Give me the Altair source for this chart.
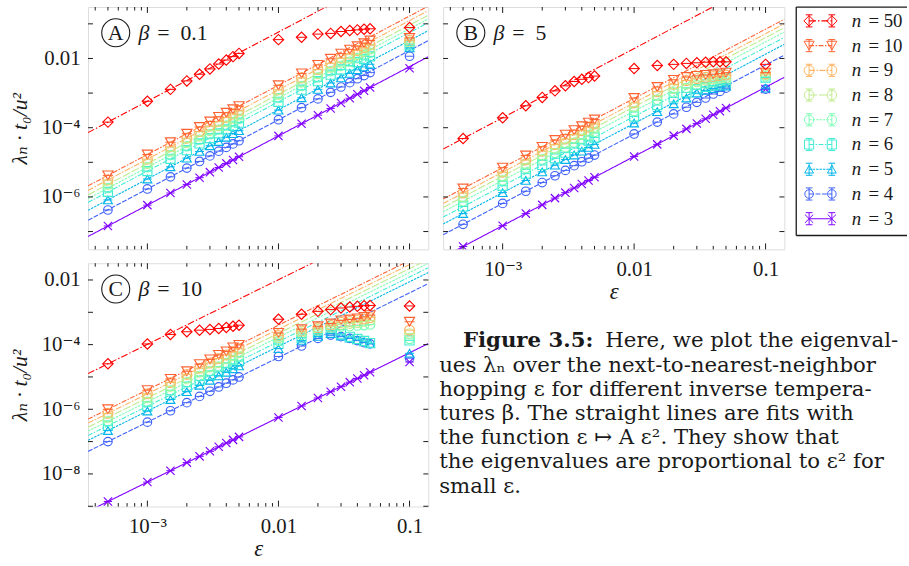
import altair as alt
import pandas as pd

# ---------------- data ----------------
EPS = [5e-4, 1e-3, 1.5e-3, 2e-3, 2.5e-3, 3e-3, 3.5e-3, 4e-3, 4.5e-3, 5e-3,
       0.01, 0.015, 0.02, 0.025, 0.03, 0.035, 0.04, 0.045, 0.05, 0.1]
SERIES = ["3", "4", "5", "6", "7", "8", "9", "10", "50"]
LEG_ORDER = ["50", "10", "9", "8", "7", "6", "5", "4", "3"]

# Panel A, beta = 0.1
A3 = [1.45e-7, 5.8e-7, 1.3e-6, 2.3e-6, 3.6e-6, 5.2e-6, 7.1e-6, 9.3e-6, 1.17e-5, 1.45e-5, 5.8e-5, 1.3e-4, 2.3e-4, 3.6e-4, 5.2e-4, 7.1e-4, 9.3e-4, 1.17e-3, 1.45e-3, 5.2e-3]
A4 = [4.2e-7, 1.7e-6, 3.8e-6, 6.8e-6, 1.06e-5, 1.53e-5, 2.1e-5, 2.7e-5, 3.4e-5, 4.2e-5, 1.7e-4, 3.8e-4, 6.8e-4, 1.05e-3, 1.5e-3, 2.0e-3, 2.6e-3, 3.2e-3, 3.9e-3, 1.16e-2]
A5 = [8.2e-7, 3.3e-6, 7.4e-6, 1.32e-5, 2.06e-5, 3.0e-5, 4.0e-5, 5.3e-5, 6.7e-5, 8.2e-5, 3.2e-4, 7.3e-4, 1.28e-3, 1.95e-3, 2.75e-3, 3.7e-3, 4.7e-3, 5.7e-3, 6.8e-3, 2.02e-2]
A6 = [1.4e-6, 5.6e-6, 1.26e-5, 2.24e-5, 3.5e-5, 5.0e-5, 6.9e-5, 9.0e-5, 1.13e-4, 1.4e-4, 5.6e-4, 1.25e-3, 2.2e-3, 3.4e-3, 4.8e-3, 6.3e-3, 7.9e-3, 9.6e-3, 1.15e-2, 2.4e-2]
A7 = [1.8e-6, 7.2e-6, 1.62e-5, 2.9e-5, 4.5e-5, 6.5e-5, 8.8e-5, 1.15e-4, 1.46e-4, 1.8e-4, 7.2e-4, 1.6e-3, 2.8e-3, 4.3e-3, 6.1e-3, 8.0e-3, 1.01e-2, 1.23e-2, 1.45e-2, 2.68e-2]
A8 = [2.3e-6, 9.2e-6, 2.07e-5, 3.7e-5, 5.75e-5, 8.3e-5, 1.13e-4, 1.47e-4, 1.86e-4, 2.3e-4, 9.2e-4, 2.05e-3, 3.6e-3, 5.5e-3, 7.7e-3, 1.01e-2, 1.28e-2, 1.56e-2, 1.85e-2, 3.0e-2]
A9 = [3.1e-6, 1.24e-5, 2.8e-5, 5.0e-5, 7.75e-5, 1.12e-4, 1.52e-4, 1.98e-4, 2.5e-4, 3.1e-4, 1.24e-3, 2.75e-3, 4.8e-3, 7.3e-3, 1.02e-2, 1.34e-2, 1.7e-2, 2.05e-2, 2.45e-2, 3.34e-2]
A10 = [4.2e-6, 1.68e-5, 3.8e-5, 6.7e-5, 1.05e-4, 1.51e-4, 2.06e-4, 2.7e-4, 3.4e-4, 4.2e-4, 1.68e-3, 3.7e-3, 6.5e-3, 9.8e-3, 1.38e-2, 1.8e-2, 2.25e-2, 2.75e-2, 3.3e-2, 3.9e-2]
A50 = [1.45e-4, 5.8e-4, 1.28e-3, 2.25e-3, 3.5e-3, 5.0e-3, 6.9e-3, 9.0e-3, 1.13e-2, 1.4e-2, 3.5e-2, 4.1e-2, 5.05e-2, 5.3e-2, 6.0e-2, 6.4e-2, 6.7e-2, 7.0e-2, 7.2e-2, 7.8e-2]
FIT_A = [0.58, 1.7, 3.3, 5.6, 7.2, 9.2, 12.4, 16.8, 580]

# Panel B, beta = 5
B3 = [3.7e-8, 1.48e-7, 3.3e-7, 5.9e-7, 9.25e-7, 1.33e-6, 1.81e-6, 2.37e-6, 3.0e-6, 3.7e-6, 1.48e-5, 3.3e-5, 5.9e-5, 9.25e-5, 1.33e-4, 1.81e-4, 2.37e-4, 3.0e-4, 3.7e-4, 1.3e-3]
B4 = [1.62e-7, 6.5e-7, 1.46e-6, 2.6e-6, 4.1e-6, 5.85e-6, 8.0e-6, 1.04e-5, 1.32e-5, 1.62e-5, 6.6e-5, 1.45e-4, 2.5e-4, 3.9e-4, 5.4e-4, 7.2e-4, 9.4e-4, 1.12e-3, 1.39e-3, 1.3e-3]
B5 = [3.3e-7, 1.33e-6, 3.0e-6, 5.3e-6, 8.3e-6, 1.2e-5, 1.63e-5, 2.1e-5, 2.7e-5, 3.3e-5, 1.36e-4, 2.9e-4, 4.9e-4, 7.2e-4, 1.0e-3, 1.2e-3, 1.35e-3, 1.5e-3, 1.6e-3, 1.39e-3]
B6 = [5.3e-7, 2.1e-6, 4.7e-6, 8.4e-6, 1.3e-5, 1.9e-5, 2.6e-5, 3.4e-5, 4.2e-5, 5.2e-5, 2.1e-4, 4.5e-4, 7.5e-4, 1.05e-3, 1.3e-3, 1.5e-3, 1.65e-3, 1.8e-3, 1.9e-3, 2.8e-3]
B7 = [7.5e-7, 3.0e-6, 6.75e-6, 1.2e-5, 1.87e-5, 2.7e-5, 3.7e-5, 4.8e-5, 6.0e-5, 7.4e-5, 3.0e-4, 6.4e-4, 1.05e-3, 1.4e-3, 1.7e-3, 1.9e-3, 2.05e-3, 2.15e-3, 2.25e-3, 3.05e-3]
B8 = [1.0e-6, 4.0e-6, 9.0e-6, 1.6e-5, 2.5e-5, 3.6e-5, 4.9e-5, 6.3e-5, 8.0e-5, 9.8e-5, 4.0e-4, 8.4e-4, 1.35e-3, 1.8e-3, 2.1e-3, 2.35e-3, 2.5e-3, 2.6e-3, 2.7e-3, 3.4e-3]
B9 = [1.3e-6, 5.2e-6, 1.17e-5, 2.1e-5, 3.25e-5, 4.7e-5, 6.3e-5, 8.2e-5, 1.04e-4, 1.28e-4, 5.2e-4, 1.1e-3, 1.8e-3, 2.3e-3, 2.6e-3, 2.85e-3, 3.0e-3, 3.15e-3, 3.3e-3, 3.6e-3]
B10 = [1.75e-6, 7.0e-6, 1.58e-5, 2.8e-5, 4.4e-5, 6.3e-5, 8.5e-5, 1.1e-4, 1.4e-4, 1.72e-4, 7.2e-4, 1.5e-3, 2.4e-3, 2.9e-3, 3.15e-3, 3.35e-3, 3.5e-3, 3.7e-3, 3.9e-3, 3.9e-3]
B50 = [4.85e-5, 1.93e-4, 4.3e-4, 7.5e-4, 1.16e-3, 1.62e-3, 2.16e-3, 2.5e-3, 2.8e-3, 3.1e-3, 5.1e-3, 6.3e-3, 6.75e-3, 7.2e-3, 7.5e-3, 7.8e-3, 8.0e-3, 8.0e-3, 8.0e-3, 6.75e-3]
FIT_B = [0.148, 0.65, 1.33, 2.1, 3.0, 4.0, 5.2, 7.0, 194]

# Panel C, beta = 10
C3 = [1.4e-9, 5.6e-9, 1.26e-8, 2.24e-8, 3.5e-8, 5.0e-8, 6.9e-8, 9.0e-8, 1.13e-7, 1.4e-7, 5.6e-7, 1.26e-6, 2.24e-6, 3.5e-6, 5.0e-6, 6.9e-6, 9.0e-6, 1.13e-5, 1.4e-5, 2.9e-5]
C4 = [1.0e-7, 4.0e-7, 9.0e-7, 1.6e-6, 2.5e-6, 3.6e-6, 4.9e-6, 6.4e-6, 8.1e-6, 1.0e-5, 4.3e-5, 9.1e-5, 1.56e-4, 1.97e-4, 1.76e-4, 1.56e-4, 1.33e-4, 1.15e-4, 1.05e-4, 3.8e-5]
C5 = [2.2e-7, 8.8e-7, 2.0e-6, 3.5e-6, 5.5e-6, 7.9e-6, 1.08e-5, 1.4e-5, 1.78e-5, 2.2e-5, 7.5e-5, 1.35e-4, 1.8e-4, 2.2e-4, 1.85e-4, 1.6e-4, 1.4e-4, 1.22e-4, 1.08e-4, 5.4e-5]
C6 = [3.1e-7, 1.24e-6, 2.8e-6, 5.0e-6, 7.75e-6, 1.12e-5, 1.52e-5, 1.98e-5, 2.5e-5, 3.1e-5, 1.05e-4, 1.65e-4, 2.2e-4, 2.7e-4, 2.1e-4, 1.75e-4, 1.5e-4, 1.3e-4, 1.12e-4, 1.35e-4]
C7 = [4.25e-7, 1.7e-6, 3.8e-6, 6.8e-6, 1.06e-5, 1.53e-5, 2.1e-5, 2.7e-5, 3.4e-5, 4.2e-5, 1.3e-4, 2.0e-4, 2.6e-4, 3.2e-4, 3.6e-4, 3.75e-4, 3.9e-4, 4.0e-4, 4.2e-4, 1.5e-4]
C8 = [5.6e-7, 2.25e-6, 5.1e-6, 9.0e-6, 1.4e-5, 2.0e-5, 2.75e-5, 3.6e-5, 4.55e-5, 5.6e-5, 1.6e-4, 2.35e-4, 2.95e-4, 3.6e-4, 4.2e-4, 4.5e-4, 4.8e-4, 5.2e-4, 5.6e-4, 2.2e-4]
C9 = [7.5e-7, 3.0e-6, 6.75e-6, 1.2e-5, 1.87e-5, 2.7e-5, 3.7e-5, 4.8e-5, 6.0e-5, 7.4e-5, 1.9e-4, 2.65e-4, 3.3e-4, 4.0e-4, 4.9e-4, 5.2e-4, 5.6e-4, 6.2e-4, 6.9e-4, 2.8e-4]
C10 = [1.0e-6, 3.9e-6, 8.7e-6, 1.5e-5, 2.5e-5, 3.5e-5, 4.8e-5, 6.2e-5, 8.2e-5, 9.8e-5, 2.3e-4, 3.0e-4, 3.7e-4, 4.5e-4, 5.6e-4, 6.0e-4, 6.5e-4, 7.2e-4, 8.2e-4, 5.1e-4]
C50 = [2.55e-5, 1.05e-4, 2.07e-4, 2.5e-4, 2.8e-4, 2.95e-4, 3.16e-4, 3.4e-4, 3.7e-4, 4.0e-4, 6.1e-4, 8.7e-4, 1.07e-3, 1.21e-3, 1.36e-3, 1.46e-3, 1.53e-3, 1.6e-3, 1.63e-3, 1.57e-3]
FIT_C = [0.0056, 0.4, 0.88, 1.24, 1.7, 2.25, 3.0, 4.0, 102]

# ticks and labels
X_DOM = [3.525e-4, 0.139]
Y_DOM_AB = [3.06e-8, 0.306]
Y_DOM_C = [9.8e-10, 0.033]
X_MAJOR = [1e-3, 1e-2, 1e-1]
X_LABELS = ["10⁻³", "0.01", "0.1"]
X_MINOR = [4e-4, 5e-4, 6e-4, 7e-4, 8e-4, 9e-4, 2e-3, 3e-3, 4e-3, 5e-3, 6e-3, 7e-3, 8e-3, 9e-3,
           2e-2, 3e-2, 4e-2, 5e-2, 6e-2, 7e-2, 8e-2, 9e-2]
Y_TICKS_AB = [1e-7, 1e-6, 1e-5, 1e-4, 1e-3, 1e-2, 1e-1]
Y_TICKS_C = [1e-9, 1e-8, 1e-7, 1e-6, 1e-5, 1e-4, 1e-3, 1e-2]
Y_LAB_AB = [1e-6, 1e-4, 1e-2]
Y_LABTXT_AB = ["10⁻⁶", "10⁻⁴", "0.01"]
Y_LAB_C = [1e-8, 1e-6, 1e-4, 1e-2]
Y_LABTXT_C = ["10⁻⁸", "10⁻⁶", "10⁻⁴", "0.01"]

CAPTION = [
    "ues λₙ over the next-to-nearest-neighbor",
    "hopping ε for different inverse tempera-",
    "tures β. The straight lines are fits with",
    "the function ε ↦ A ε². They show that",
    "the eigenvalues are proportional to ε² for",
    "small ε.",
]
CAP_HEAD = "Figure 3.5:"
CAP_FIRST = "Here, we plot the eigenval-"

# ---------------- styles ----------------
COLORS = ["#8000ff", "#4062fa", "#00b4eb", "#40ecd4", "#80ffb4", "#c0eb8d", "#ffb462", "#ff6232", "#ff0000"]
XSHAPE = "M-1,-1L1,1M-1,1L1,-1"
DASHSHAPE = "M-1,0L1,0"
SHAPES = [XSHAPE, "circle", "triangle-up", "square", "circle", "circle", "circle", "triangle-down", "diamond"]
SIZES = [70, 110, 110, 85, 100, 100, 100, 110, 180]
BAR_SIZES = [40, 80, 60, 60, 70, 70, 70, 60, 130]
DASHES = [[1, 0], [5, 1.5], [2.5, 1], [5, 1.5, 1.5, 1.5], [2.5, 1], [8, 2], [6, 1.5, 1.5, 1.5],
          [5, 1.5, 1.5, 1.5], [7, 2, 1.5, 2]]
IBEAM = "M0,-1L0,1M-0.55,-1L0.55,-1M-0.55,1L0.55,1"
FONT = "Liberation Serif, DejaVu Serif, serif"
CAPFONT = "DejaVu Serif, serif"
INK = "#1a1a1a"

color_enc = alt.Color("n:N", scale=alt.Scale(domain=SERIES, range=COLORS), legend=None)
shape_enc = alt.Shape("n:N", scale=alt.Scale(domain=SERIES, range=SHAPES), legend=None)
size_enc = alt.Size("n:N", scale=alt.Scale(domain=SERIES, range=SIZES), legend=None)
barsize_enc = alt.Size("n:N", scale=alt.Scale(domain=SERIES, range=BAR_SIZES), legend=None)
dash_enc = alt.StrokeDash("n:N", scale=alt.Scale(domain=SERIES, range=DASHES), legend=None)


def label_expr(values, labels):
    expr = "'" + labels[-1] + "'"
    for v, l in reversed(list(zip(values[:-1], labels[:-1]))):
        expr = "datum.value < " + repr(v * 3) + " ? '" + l + "' : " + expr
    return expr


def make_panel(vals, fits, ydom, yticks, ylabvals, ylabtxt, letter, beta, show_x, show_y, w, h):
    pts = pd.DataFrame([{"eps": e, "val": v, "n": s}
                        for s, arr in zip(SERIES, vals) for e, v in zip(EPS, arr)])
    fit = pd.DataFrame([{"eps": x, "val": a * x * x, "n": s}
                        for s, a in zip(SERIES, fits) for x in X_DOM])
    xs = alt.Scale(type="log", domain=X_DOM, nice=False)
    ys = alt.Scale(type="log", domain=ydom, nice=False)
    if show_x:
        xaxis = alt.Axis(values=X_MAJOR, labelExpr=label_expr(X_MAJOR, X_LABELS), title="ε",
                         labelFont=FONT, labelFontSize=21, labelPadding=9, labelColor=INK,
                         titleFont=FONT, titleFontSize=23, titleFontStyle="italic",
                         titleFontWeight="normal", titlePadding=2, titleColor=INK,
                         ticks=False, domain=False, grid=False, labelFlush=False)
    else:
        xaxis = None
    if show_y:
        yaxis = alt.Axis(values=ylabvals, labelExpr=label_expr(ylabvals, ylabtxt),
                         title="λₙ · t₀/u²", labelFont=FONT, labelFontSize=21, labelPadding=8,
                         labelColor=INK, titleFont=FONT, titleFontSize=22, titleFontStyle="italic",
                         titleFontWeight="normal", titlePadding=10, titleColor=INK,
                         ticks=False, domain=False, grid=False, labelFlush=False)
    else:
        yaxis = None

    def X(f):
        return alt.X(f + ":Q", scale=xs, axis=xaxis)

    def Y(f):
        return alt.Y(f + ":Q", scale=ys, axis=yaxis)

    lines = alt.Chart(fit).mark_line(clip=True, strokeWidth=1.1).encode(
        x=X("eps"), y=Y("val"), color=color_enc, strokeDash=dash_enc)
    marks = alt.Chart(pts).mark_point(filled=False, clip=True, strokeWidth=1.15, opacity=1).encode(
        x=X("eps"), y=Y("val"), color=color_enc, shape=shape_enc, size=size_enc)
    bars = alt.Chart(pts).mark_point(shape=DASHSHAPE, filled=False, clip=True, strokeWidth=1.0,
                                     opacity=1).encode(
        x=X("eps"), y=Y("val"), color=color_enc, size=barsize_enc)

    xmaj = pd.DataFrame({"t": X_MAJOR})
    xmin = pd.DataFrame({"t": X_MINOR})
    ytk = pd.DataFrame({"t": yticks})
    tk = dict(color=INK, strokeWidth=1)
    ticks = [
        alt.Chart(xmaj).mark_rule(**tk).encode(x=X("t"), y=alt.value(h), y2=alt.value(h - 6)),
        alt.Chart(xmaj).mark_rule(**tk).encode(x=X("t"), y=alt.value(0), y2=alt.value(6)),
        alt.Chart(xmin).mark_rule(**tk).encode(x=X("t"), y=alt.value(h), y2=alt.value(h - 3.5)),
        alt.Chart(xmin).mark_rule(**tk).encode(x=X("t"), y=alt.value(0), y2=alt.value(3.5)),
        alt.Chart(ytk).mark_rule(**tk).encode(y=Y("t"), x=alt.value(0), x2=alt.value(5)),
        alt.Chart(ytk).mark_rule(**tk).encode(y=Y("t"), x=alt.value(w - 5), x2=alt.value(w)),
    ]
    lab = pd.DataFrame({"letter": [letter], "beta": ["=\u2002" + beta]})
    badge = alt.Chart(lab).mark_point(shape="circle", size=800, filled=False, color=INK,
                                      strokeWidth=1.1, opacity=1).encode(
        x=alt.value(28), y=alt.value(26))
    letter_t = alt.Chart(lab).mark_text(font=FONT, fontSize=22, color=INK, baseline="middle",
                                        align="center").encode(
        x=alt.value(28), y=alt.value(26.5), text="letter:N")
    beta_sym = alt.Chart(lab).mark_text(font=FONT, fontSize=22, color=INK, fontStyle="italic",
                                        align="left", baseline="alphabetic").encode(
        x=alt.value(51), y=alt.value(33), text=alt.value("β"))
    beta_val = alt.Chart(lab).mark_text(font=FONT, fontSize=22, color=INK, align="left",
                                        baseline="alphabetic").encode(
        x=alt.value(70), y=alt.value(33), text="beta:N")
    return alt.layer(lines, marks, bars, *ticks, badge, letter_t, beta_sym, beta_val).properties(
        width=w, height=h)


pA = make_panel([A3, A4, A5, A6, A7, A8, A9, A10, A50], FIT_A, Y_DOM_AB, Y_TICKS_AB,
                Y_LAB_AB, Y_LABTXT_AB, "A", "0.1", False, True, 344, 245)
pB = make_panel([B3, B4, B5, B6, B7, B8, B9, B10, B50], FIT_B, Y_DOM_AB, Y_TICKS_AB,
                Y_LAB_AB, Y_LABTXT_AB, "B", "5", True, False, 345, 245)
pC = make_panel([C3, C4, C5, C6, C7, C8, C9, C10, C50], FIT_C, Y_DOM_C, Y_TICKS_C,
                Y_LAB_C, Y_LABTXT_C, "C", "10", True, True, 344, 246)

# ---------------- legend ----------------
LW, LH = 112, 231
leg = pd.DataFrame({"n": LEG_ORDER, "eq": ["= " + s for s in LEG_ORDER]})
ly = alt.Y("n:N", scale=alt.Scale(type="point", domain=LEG_ORDER, range=[14, 214], padding=0), axis=None)
leg_layers = [
    alt.Chart(leg).mark_rule(strokeWidth=1.1).encode(
        x=alt.value(13), x2=alt.value(36), y=ly, color=color_enc, strokeDash=dash_enc),
]
for xp in (13, 36):
    leg_layers.append(alt.Chart(leg).mark_point(shape=IBEAM, size=150, filled=False, strokeWidth=1,
                                                opacity=1).encode(x=alt.value(xp), y=ly, color=color_enc))
    leg_layers.append(alt.Chart(leg).mark_point(filled=False, strokeWidth=1, opacity=1).encode(
        x=alt.value(xp), y=ly, color=color_enc, shape=shape_enc, size=size_enc))
leg_layers.append(alt.Chart(leg).mark_text(font=FONT, fontSize=19, fontStyle="italic", color=INK,
                                           align="left", baseline="middle").encode(
    x=alt.value(56), y=ly, text=alt.value("n")))
leg_layers.append(alt.Chart(leg).mark_text(font=FONT, fontSize=19, color=INK, align="left",
                                           baseline="middle").encode(
    x=alt.value(73), y=ly, text="eq:N"))
box = pd.DataFrame({"k": [0]})
bk = dict(color=INK, strokeWidth=1.3)
leg_layers += [
    alt.Chart(box).mark_rule(**bk).encode(x=alt.value(0), x2=alt.value(LW), y=alt.value(0)),
    alt.Chart(box).mark_rule(**bk).encode(x=alt.value(0), x2=alt.value(LW), y=alt.value(LH)),
    alt.Chart(box).mark_rule(**bk).encode(x=alt.value(0), y=alt.value(0), y2=alt.value(LH)),
]
legend = alt.layer(*leg_layers).properties(width=LW, height=LH,
                                           view=alt.ViewBackground(stroke="transparent"))

# ---------------- caption ----------------
cap = pd.DataFrame({"i": list(range(len(CAPTION))), "t": CAPTION})
cy = alt.Y("i:O", scale=alt.Scale(type="point", range=[60.5, 183], padding=0), axis=None)
head = pd.DataFrame({"h": [CAP_HEAD], "f": [CAP_FIRST]})
caption = alt.layer(
    alt.Chart(head).mark_text(font=CAPFONT, fontSize=21.5, fontWeight="bold", color=INK, align="left",
                              baseline="middle").encode(x=alt.value(20), y=alt.value(36), text="h:N"),
    alt.Chart(head).mark_text(font=CAPFONT, fontSize=21.5, color=INK, align="left",
                              baseline="middle").encode(x=alt.value(164), y=alt.value(36), text="f:N"),
    alt.Chart(cap).mark_text(font=CAPFONT, fontSize=21.5, color=INK, align="left",
                             baseline="middle").encode(x=alt.value(-4), y=cy, text="t:N"),
).properties(width=460, height=200, view=alt.ViewBackground(stroke="transparent"))

col1 = alt.vconcat(pA, pC, spacing=12)
col2 = alt.vconcat(alt.hconcat(pB, legend, spacing=9), caption, spacing=0)
chart = alt.hconcat(col1, col2, spacing=9).properties(
    padding={"left": 8, "top": 2, "right": 0, "bottom": 0}
).configure_view(stroke=INK, strokeWidth=1.2).configure(background="white")

chart.save("out.html", embed_options={"renderer": "svg", "actions": False})
